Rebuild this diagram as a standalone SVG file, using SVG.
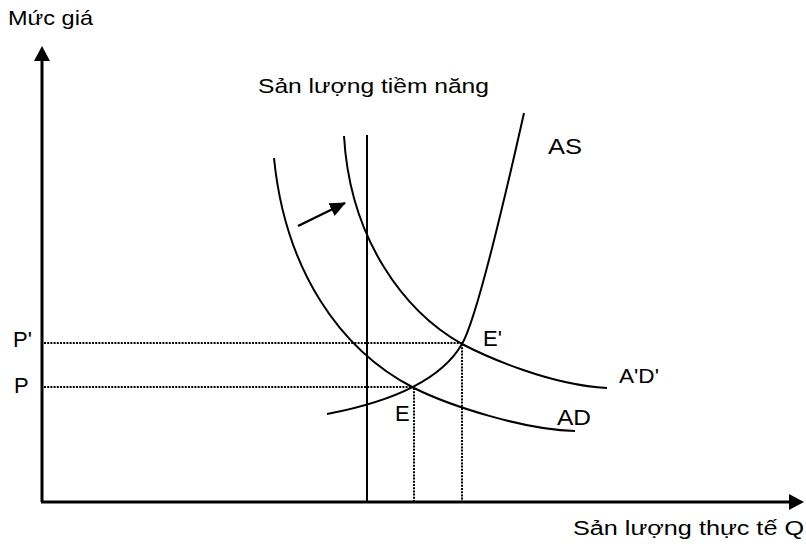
<svg xmlns="http://www.w3.org/2000/svg" width="806" height="550" viewBox="0 0 806 550">
<style>
.lbl{font-family:"Liberation Sans",Arial,sans-serif;fill:#000}
.curve{fill:none;stroke:#000;stroke-width:2}
.axis{fill:none;stroke:#000;stroke-width:3}
.guide{fill:none;stroke:#000;stroke-width:2;stroke-dasharray:2 1.2}
</style>
<defs>
<marker id="ah" markerWidth="16" markerHeight="14" refX="15" refY="7" orient="auto" markerUnits="userSpaceOnUse" viewBox="0 0 16 14">
<path d="M0,0 L16,7 L0,14 Z" fill="#000"/>
</marker>
</defs>
<rect width="806" height="550" fill="#fff"/>
<g id="axes">
<line class="axis" x1="42" y1="502" x2="42" y2="58"/>
<polygon points="42,46 34,61 50,61" fill="#000"/>
<line class="axis" x1="41" y1="502" x2="790" y2="502"/>
<polygon points="804,502 789,494 789,510" fill="#000"/>
<text class="lbl" x="8" y="25" font-size="21" textLength="85" lengthAdjust="spacingAndGlyphs">Mức giá</text>
<text class="lbl" x="573" y="535" font-size="20" textLength="231" lengthAdjust="spacingAndGlyphs">Sản lượng thực tế  Q</text>
</g>
<g id="potential">
<line class="curve" x1="367" y1="135" x2="367" y2="502"/>
<text class="lbl" x="258" y="93" font-size="21" textLength="231" lengthAdjust="spacingAndGlyphs">Sản lượng tiềm năng</text>
</g>
<g id="AS">
<path class="curve" d="M327,414 C385,403 440,382 462,344 C475,322 500,220 524,113"/>
<text class="lbl" x="548" y="154" font-size="22" textLength="34" lengthAdjust="spacingAndGlyphs">AS</text>
</g>
<g id="AD">
<path class="curve" d="M274,158 C285,270 340,350 414,388 C450,406 525,430 575,431"/>
<text class="lbl" x="557" y="425" font-size="22" textLength="34" lengthAdjust="spacingAndGlyphs">AD</text>
</g>
<g id="ApDp">
<path class="curve" d="M344,136 C350,240 405,312 462,344 C487,357 550,385 607,388"/>
<text class="lbl" x="619" y="383" font-size="21" textLength="40" lengthAdjust="spacingAndGlyphs">A'D'</text>
</g>
<g id="connectors">
<line class="guide" x1="44" y1="343" x2="462" y2="343"/>
<line class="guide" x1="44" y1="387" x2="414" y2="387"/>
<line class="guide" x1="414" y1="388" x2="414" y2="501"/>
<line class="guide" x1="462" y1="344" x2="462" y2="501"/>
<line x1="298" y1="226" x2="345" y2="203" stroke="#000" stroke-width="2.5" marker-end="url(#ah)"/>
</g>
<g id="points">
<text class="lbl" x="13" y="347" font-size="22">P'</text>
<text class="lbl" x="14" y="393" font-size="22">P</text>
<text class="lbl" x="483" y="346" font-size="22">E'</text>
<text class="lbl" x="395" y="421" font-size="22">E</text>
</g>
</svg>
